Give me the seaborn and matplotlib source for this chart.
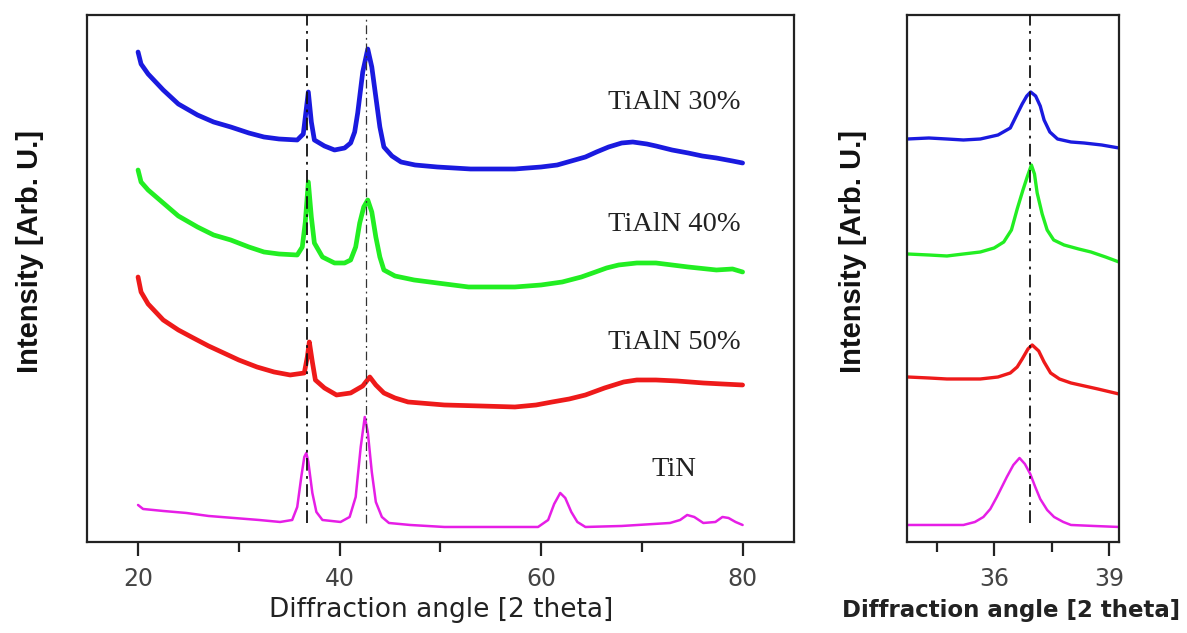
import matplotlib
matplotlib.use("Agg")
import matplotlib.pyplot as plt
import seaborn as sns
import pandas as pd
from matplotlib.ticker import FixedLocator, NullFormatter

# ---------------- data (intensity, arbitrary units) -------------
# Wide scan, 2 theta in degrees
x_b30 = [20.0, 20.3, 21.0, 22.5, 24.0, 25.9, 27.5, 29.2, 31.0, 32.5, 34.0, 35.8, 36.4, 36.9,
         37.2, 37.5, 38.5, 39.5, 40.5, 41.1, 41.5, 41.8, 42.3, 42.8, 43.2, 43.6, 44.0, 44.4,
         45.2, 46.1, 47.5, 49.7, 53.0, 57.4, 60.0, 61.6, 63.0, 64.4, 65.5, 66.7, 68.0, 69.1,
         70.5, 71.4, 73.0, 74.6, 76.0, 77.4, 79.0, 80.0]
y_b30 = [490, 478, 468, 452, 438, 427, 420, 415, 409, 405, 403, 402, 408, 450,
         420, 402, 396, 392, 394, 399, 410, 429, 470, 493, 475, 445, 415, 395,
         386, 380, 377, 375, 373, 373, 375, 377, 381, 385, 390, 395, 399, 400,
         398, 396, 392, 389, 386, 384, 381, 379]

x_g40 = [20.0, 20.3, 21.0, 22.5, 24.0, 25.9, 27.5, 29.2, 31.0, 32.5, 34.0, 35.8, 36.3, 36.6,
         36.9, 37.2, 37.5, 38.3, 39.5, 40.5, 41.1, 41.6, 42.0, 42.4, 42.8, 43.2, 43.6, 44.0,
         44.4, 45.5, 47.4, 49.7, 52.8, 57.4, 60.0, 62.1, 64.0, 65.4, 66.5, 67.7, 69.5, 71.4,
         73.0, 74.6, 77.4, 79.0, 80.0]
y_g40 = [372, 360, 352, 339, 326, 315, 307, 302, 295, 290, 288, 287, 295, 320,
         360, 325, 299, 285, 279, 279, 282, 295, 319, 335, 342, 330, 305, 285,
         272, 266, 262, 259, 255, 255, 257, 260, 265, 270, 274, 277, 279, 279,
         277, 275, 272, 273, 270]

x_r50 = [20.0, 20.3, 21.0, 22.5, 24.0, 25.3, 27.0, 28.5, 30.0, 31.8, 33.5, 35.1, 36.5, 36.8,
         37.0, 37.3, 37.6, 38.5, 39.7, 41.1, 42.3, 43.0, 43.6, 44.4, 45.5, 46.8, 50.4, 54.0,
         57.4, 59.5, 61.1, 62.8, 64.4, 66.3, 68.2, 69.5, 71.4, 73.5, 76.1, 78.0, 80.0]
y_r50 = [265, 250, 238, 222, 212, 205, 196, 189, 182, 175, 170, 167, 169, 185,
         200, 180, 162, 154, 147, 149, 156, 165, 157, 149, 144, 140, 137, 136,
         135, 137, 140, 143, 147, 154, 160, 162, 162, 161, 159, 158, 157]

x_tin = [20.0, 20.5, 22.5, 24.8, 27.0, 29.5, 32.0, 34.1, 35.3, 35.8, 36.2, 36.5, 36.7, 36.9,
         37.3, 37.7, 38.3, 40.1, 41.0, 41.6, 42.1, 42.5, 42.8, 43.2, 43.6, 44.2, 44.9, 47.0,
         50.4, 55.0, 59.7, 60.7, 61.3, 61.9, 62.4, 63.0, 63.6, 64.4, 68.0, 72.8, 73.8, 74.5,
         75.2, 76.1, 77.3, 78.0, 78.6, 79.3, 80.0]
y_tin = [37, 33, 31, 29, 26, 24, 22, 20, 22, 35, 65, 85, 89, 80,
         49, 30, 22, 20, 25, 45, 95, 125, 110, 70, 40, 25, 19, 17,
         15, 15, 15, 22, 38, 49, 44, 30, 20, 15, 16, 19, 22, 27,
         25, 19, 20, 25, 24, 20, 17]

# Zoomed scan around 37 degrees
z_b30_x = [33.74, 34.3, 34.77, 35.2, 35.64, 36.1, 36.42, 36.6, 36.73, 36.85, 36.95, 37.08,
           37.2, 37.3, 37.45, 37.65, 38.0, 38.34, 38.8, 39.25]
z_b30_y = [403, 404, 403, 402, 403, 407, 414, 428, 438, 446, 450, 446,
           436, 422, 410, 403, 400, 399, 397, 394]
z_g40_x = [33.74, 34.3, 34.77, 35.2, 35.64, 36.0, 36.25, 36.45, 36.6, 36.75, 36.86, 36.97,
           37.05, 37.12, 37.25, 37.38, 37.55, 37.82, 38.2, 38.52, 38.9, 39.25]
z_g40_y = [288, 287, 286, 288, 290, 294, 300, 312, 333, 352, 365, 377,
           368, 349, 328, 312, 302, 297, 293, 290, 285, 280]
z_r50_x = [33.74, 34.3, 34.77, 35.2, 35.64, 36.1, 36.42, 36.6, 36.73, 36.88, 36.99, 37.16,
           37.3, 37.47, 37.7, 38.0, 38.35, 38.7, 39.25]
z_r50_y = [165, 164, 163, 163, 163, 165, 169, 175, 183, 193, 197, 191,
           180, 169, 163, 159, 156, 153, 148]
z_tin_x = [33.74, 34.5, 35.2, 35.5, 35.72, 35.9, 36.07, 36.2, 36.33, 36.5, 36.66, 36.8,
           36.94, 37.07, 37.2, 37.38, 37.56, 37.8, 38.0, 38.6, 39.25]
z_tin_y = [17, 17, 17, 20, 25, 33, 45, 55, 65, 77, 84, 78,
           68, 55, 43, 32, 25, 20, 17, 16, 15]

series_names = ["TiAlN 30%", "TiAlN 40%", "TiAlN 50%", "TiN"]
series_colors = ["#1a1adf", "#22ee22", "#ee1a1a", "#e61ee6"]
ref_lines_wide = [36.8, 42.65]
ref_line_zoom = 36.94

wide_ticks = [20, 40, 60, 80]
wide_minor = [30, 50, 70]
zoom_ticks = [36, 39]
zoom_minor = [34.5, 37.5]

# ---------------- build tables ----------------
wide = pd.concat([
    pd.DataFrame({"angle": x_b30, "intensity": y_b30, "sample": series_names[0]}),
    pd.DataFrame({"angle": x_g40, "intensity": y_g40, "sample": series_names[1]}),
    pd.DataFrame({"angle": x_r50, "intensity": y_r50, "sample": series_names[2]}),
    pd.DataFrame({"angle": x_tin, "intensity": y_tin, "sample": series_names[3]}),
], ignore_index=True)
zoom = pd.concat([
    pd.DataFrame({"angle": z_b30_x, "intensity": z_b30_y, "sample": series_names[0]}),
    pd.DataFrame({"angle": z_g40_x, "intensity": z_g40_y, "sample": series_names[1]}),
    pd.DataFrame({"angle": z_r50_x, "intensity": z_r50_y, "sample": series_names[2]}),
    pd.DataFrame({"angle": z_tin_x, "intensity": z_tin_y, "sample": series_names[3]}),
], ignore_index=True)
palette = dict(zip(series_names, series_colors))

# ---------------- figure ----------------
sns.set_style("white")
plt.rcParams["font.family"] = ["DejaVu Sans"]

fig = plt.figure(figsize=(11.87, 6.33), dpi=100)
ax1 = fig.add_axes([0.0730, 0.1438, 0.5959, 0.8325])
ax2 = fig.add_axes([0.7644, 0.1438, 0.1783, 0.8325])

for ax, df, wide_lw in ((ax1, wide, 3.4), (ax2, zoom, 2.4)):
    for name in series_names:
        sub = df[df["sample"] == name]
        lw = 1.8 if name == "TiN" else wide_lw
        sns.lineplot(data=sub, x="angle", y="intensity", color=palette[name],
                     lw=lw, ax=ax, legend=False, sort=False, estimator=None)

# reference dash-dot lines
ax1.vlines(ref_lines_wide[0], 19, 527, colors="#111111", lw=1.3,
           linestyles=(0, (7, 3, 1.5, 3)), zorder=5)
ax1.vlines(ref_lines_wide[1], 19, 527, colors="#333333", lw=0.9,
           linestyles=(0, (7, 3, 1.5, 3)), zorder=5)
ax2.vlines(ref_line_zoom, 19, 527, colors="#111111", lw=1.3,
           linestyles=(0, (7, 3, 1.5, 3)), zorder=5)

ax1.set_xlim(14.9, 85.1)
ax2.set_xlim(33.74, 39.25)
for ax in (ax1, ax2):
    ax.set_ylim(0, 527)
    ax.set_yticks([])
    ax.set_ylabel("")
    ax.set_xlabel("")
    for s in ax.spines.values():
        s.set_color("#222222")
        s.set_linewidth(1.6)
        s.set_visible(True)

ax1.xaxis.set_major_locator(FixedLocator(wide_ticks))
ax1.xaxis.set_minor_locator(FixedLocator(wide_minor))
ax2.xaxis.set_major_locator(FixedLocator(zoom_ticks))
ax2.xaxis.set_minor_locator(FixedLocator(zoom_minor))
for ax in (ax1, ax2):
    ax.xaxis.set_minor_formatter(NullFormatter())
    ax.tick_params(axis="x", which="major", direction="out", length=10, width=1.6,
                   color="#222222", labelsize=17, labelcolor="#444444", pad=8,
                   bottom=True)
    ax.tick_params(axis="x", which="minor", direction="out", length=7, width=1.6,
                   color="#222222", bottom=True)

# annotations
text_kw = dict(fontsize=20.5, family=["Liberation Serif", "DejaVu Serif"], color="#222222",
               ha="left", va="center")
ax1.text(66.6, 542 - 103, series_names[0], **text_kw)
ax1.text(66.6, 542 - 225, series_names[1], **text_kw)
ax1.text(66.6, 542 - 343, series_names[2], **text_kw)
ax1.text(71.0, 542 - 470, series_names[3], **text_kw)

# axis titles
fig.text(441 / 1187, 1 - 610 / 633, "Diffraction angle [2 theta]", fontsize=19,
         color="#222222", ha="center", va="center")
fig.text(1011 / 1187, 1 - 610 / 633, "Diffraction angle [2 theta]", fontweight="bold",
         fontsize=16.5, color="#222222", ha="center", va="center")
ylab_kw = dict(fontsize=21, fontweight="bold", color="#111111", rotation=90,
               ha="center", va="center", family=["Liberation Sans", "DejaVu Sans"])
fig.text(30 / 1187, 1 - 251 / 633, "Intensity [Arb. U.]", **ylab_kw)
fig.text(853 / 1187, 1 - 251 / 633, "Intensity [Arb. U.]", **ylab_kw)

fig.savefig("out.png", dpi=100)
